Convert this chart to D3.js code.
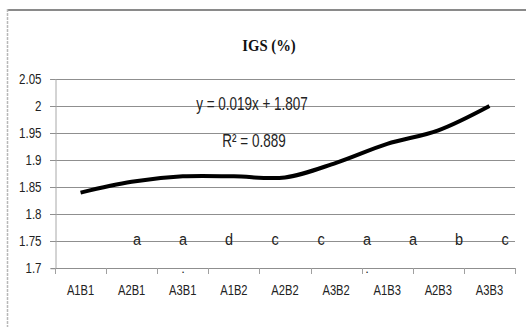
<!DOCTYPE html>
<html>
<head>
<meta charset="utf-8">
<script src="https://cdn.jsdelivr.net/npm/d3@7/dist/d3.min.js"></script>
<style>
  body { margin: 0; background: #fff; }
  svg { display: block; font-family: "Liberation Sans", Arial, sans-serif; }
</style>
</head>
<body>
<svg id="chart" width="526" height="327"></svg>
<script>
// chart data
const categories = ["A1B1", "A2B1", "A3B1", "A1B2", "A2B2", "A3B2", "A1B3", "A2B3", "A3B3"];
const igsValues = [1.84, 1.86, 1.87, 1.87, 1.868, 1.895, 1.93, 1.955, 2.0];
const yTicks = [1.7, 1.75, 1.8, 1.85, 1.9, 1.95, 2, 2.05];
const letters = ["a", "a", "d", "c", "c", "a", "a", "b", "c"];
const letterDots = ["", ".", "", "", "", ".", "", "", ""];
const titleText = "IGS (%)";
const trendEquation = "y = 0.019x + 1.807";
const trendR2 = "R² = 0.889";

const chart = {
  left: 55,
  right: 515,
  top: 79,
  bottom: 268.3
};
const squeeze = 0.77; // the fonts in the picture are narrow

const svg = d3.select("#chart");

// draws text squeezed horizontally around its anchor point
function narrowText(parent, x, y, str, size, anchor, factor) {
  return parent.append("text")
      .attr("transform", "translate(" + x + "," + y + ") scale(" + (factor || squeeze) + ",1)")
      .attr("text-anchor", anchor || "middle")
      .attr("font-size", size)
      .attr("fill", "#222")
      .text(str);
}

// frame
svg.append("line")
    .attr("x1", 7).attr("x2", 526).attr("y1", 10).attr("y2", 10)
    .attr("stroke", "#8a8a8a").attr("stroke-width", 2);
svg.append("line")
    .attr("x1", 7.5).attr("x2", 7.5).attr("y1", 9).attr("y2", 327)
    .attr("stroke", "#b8b8b8").attr("stroke-width", 1.5)
    .attr("stroke-dasharray", "3,1");

const xScale = d3.scaleBand()
    .domain(categories)
    .range([chart.left, chart.right])
    .padding(0);

const yScale = d3.scaleLinear()
    .domain([1.7, 2.05])
    .range([chart.bottom, chart.top]);

const snap = v => Math.round(v) + 0.5;

// gridlines
svg.append("g")
    .selectAll("line")
    .data(yTicks.filter(d => d > 1.7))
    .join("line")
    .attr("x1", chart.left - 5)
    .attr("x2", chart.right)
    .attr("y1", d => snap(yScale(d)))
    .attr("y2", d => snap(yScale(d)))
    .attr("stroke", "#8f8f8f")
    .attr("stroke-width", 1);

// y axis
const yAxis = svg.append("g")
    .attr("transform", "translate(" + (chart.left + 0.5) + ",0)")
    .call(d3.axisLeft(yScale).tickValues(yTicks).tickSize(5).tickPadding(7)
        .tickFormat(d => String(+d.toFixed(2))));
yAxis.attr("font-family", null);
yAxis.select(".domain").attr("stroke", "#a8a8a8");
yAxis.selectAll(".tick line").attr("stroke", "#8f8f8f");
yAxis.selectAll(".tick").attr("transform", d => "translate(0," + snap(yScale(d)) + ")");
yAxis.selectAll(".tick text")
    .attr("font-size", 15)
    .attr("fill", "#222")
    .attr("x", -14 / squeeze)
    .attr("transform", "scale(" + squeeze + ",1)");

// x axis
const xAxis = svg.append("g")
    .attr("transform", "translate(0," + snap(chart.bottom) + ")")
    .call(d3.axisBottom(xScale).tickSize(0).tickPadding(16));
xAxis.attr("font-family", null);
xAxis.select(".domain").attr("stroke", "#8f8f8f").attr("d", "M" + chart.left + ",0H" + chart.right);
xAxis.selectAll(".tick text")
    .attr("font-size", 14.5)
    .attr("fill", "#222")
    .attr("transform", "scale(" + squeeze + ",1)");

// category boundary ticks
svg.append("g")
    .selectAll("line")
    .data(d3.range(categories.length + 1))
    .join("line")
    .attr("x1", i => snap(chart.left + i * xScale.bandwidth()))
    .attr("x2", i => snap(chart.left + i * xScale.bandwidth()))
    .attr("y1", Math.round(chart.bottom))
    .attr("y2", Math.round(chart.bottom) + 6)
    .attr("stroke", "#a0a0a0");

// letters row (significance groups)
const letterScale = d3.scalePoint()
    .domain(d3.range(letters.length))
    .range([137, 505]);

const letterG = svg.append("g");
letters.forEach((d, i) => narrowText(letterG, letterScale(i), yScale(1.75) + 4, d, 17, "middle", 0.85));
letterDots.forEach((d, i) => { if (d) narrowText(letterG, letterScale(i), yScale(1.7) + 5, d, 13, "middle", 1); });

// the series line
const line = d3.line()
    .x((d, i) => xScale(categories[i]) + xScale.bandwidth() / 2)
    .y(d => yScale(d))
    .curve(d3.curveCatmullRom.alpha(0.5));

svg.append("path")
    .datum(igsValues)
    .attr("d", line)
    .attr("fill", "none")
    .attr("stroke", "#000")
    .attr("stroke-width", 4)
    .attr("stroke-linecap", "butt");

// title
narrowText(svg, 269, 51, titleText, 17.5, "middle", 0.84)
    .style("font-family", "'Liberation Serif', 'Times New Roman', serif")
    .attr("font-weight", "bold")
    .attr("fill", "#111");

// trendline label
narrowText(svg, 252, 110, trendEquation, 17.5);
narrowText(svg, 254, 147, trendR2, 17.5);
</script>
</body>
</html>
